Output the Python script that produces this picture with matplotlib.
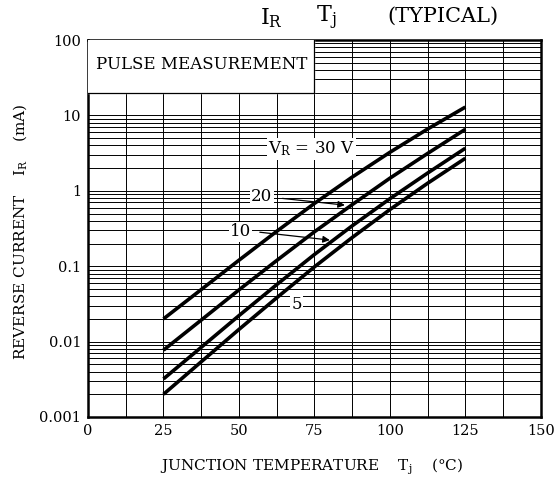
import numpy as np
import matplotlib
matplotlib.use('Agg')
from matplotlib import pyplot as plt

plt.rcParams['font.family'] = ['DejaVu Serif']
plt.rcParams['mathtext.fontset'] = 'dejavuserif'

# junction temperature (degC) and reverse current (mA)
tj = [25, 37.5, 50, 62.5, 75, 87.5, 100, 112.5, 125]
ir_30v = [0.020, 0.049, 0.12, 0.29, 0.68, 1.52, 3.24, 6.6, 12.9]
ir_20v = [0.0077, 0.0193, 0.0485, 0.119, 0.286, 0.655, 1.47, 3.13, 6.55]
ir_10v = [0.0032, 0.0084, 0.0221, 0.0569, 0.143, 0.343, 0.785, 1.72, 3.67]
ir_5v = [0.0020, 0.0054, 0.0145, 0.0381, 0.098, 0.240, 0.564, 1.26, 2.70]

xticks = [0, 25, 50, 75, 100, 125, 150]
yticks = [0.001, 0.01, 0.1, 1, 10, 100]
ytick_labels = ['0.001', '0.01', '0.1', '1', '10', '100']

fig = plt.figure(figsize=(5.57, 4.88), dpi=100)
ax = fig.add_axes([0.158, 0.1455, 0.813, 0.7725])

ax.set_yscale('log')
ax.set_xlim(0, 150)
ax.set_ylim(0.001, 100)

# grid: every 12.5 degC, and 1..9 per decade
for x in np.arange(12.5, 150, 12.5):
    ax.axvline(x, color='black', lw=0.7, zorder=1)
for d in [0.001, 0.01, 0.1, 1, 10]:
    for m in range(1, 10):
        if d * m > 0.001:
            ax.axhline(d * m, color='black', lw=0.7, zorder=1)

for ir in [ir_30v, ir_20v, ir_10v, ir_5v]:
    ax.plot(tj, ir, color='black', lw=2.6, zorder=5, solid_capstyle='butt')

ax.set_xticks(xticks)
ax.set_xticklabels([str(x) for x in xticks])
ax.set_yticks(yticks)
ax.set_yticklabels(ytick_labels)
ax.minorticks_off()
ax.tick_params(length=0, labelsize=10.5, pad=5)
for s in ax.spines.values():
    s.set_linewidth(1.8)

# "PULSE MEASUREMENT" box
ax.fill_between([0, 75], 20, 100, color='white', zorder=3)
ax.plot([0, 75, 75], [20, 20, 100], color='black', lw=0.9, zorder=3)
ax.text(37.5, 47, 'PULSE MEASUREMENT', ha='center', va='center', fontsize=12, zorder=4)

box = dict(facecolor='white', edgecolor='none', pad=1)
ax.text(74, 3.6, r'$\mathrm{V_R}$ = 30 V', ha='center', va='center', fontsize=12,
        bbox=box, zorder=4)
ax.text(57.5, 0.85, '20', ha='center', va='center', fontsize=12, bbox=box, zorder=4)
ax.text(50.5, 0.285, '10', ha='center', va='center', fontsize=12, bbox=box, zorder=4)
ax.text(69.2, 0.031, '5', ha='center', va='center', fontsize=12, bbox=box, zorder=4)
ax.annotate('', xy=(86, 0.64), xytext=(63.5, 0.8),
            arrowprops=dict(arrowstyle='-|>', color='black', lw=0.9), zorder=6)
ax.annotate('', xy=(81, 0.22), xytext=(56, 0.285),
            arrowprops=dict(arrowstyle='-|>', color='black', lw=0.9), zorder=6)

fig.text(272 / 557, 1 - 18 / 488, r'$\mathrm{I_R}$', ha='center', va='center', fontsize=16)
fig.text(326 / 557, 1 - 18 / 488, r'$\mathrm{T_j}$', ha='center', va='center', fontsize=16)
fig.text(443 / 557, 1 - 16 / 488, '(TYPICAL)', ha='center', va='center', fontsize=15)

fig.text(312 / 557, 1 - 467 / 488, r'JUNCTION TEMPERATURE    $\mathrm{T_j}$    (°C)',
         ha='center', va='center', fontsize=11)
fig.text(20 / 557, 1 - 232 / 488, r'REVERSE CURRENT    $\mathrm{I_R}$    (mA)',
         ha='center', va='center', fontsize=11, rotation=90)

fig.savefig('out.png', dpi=100)
